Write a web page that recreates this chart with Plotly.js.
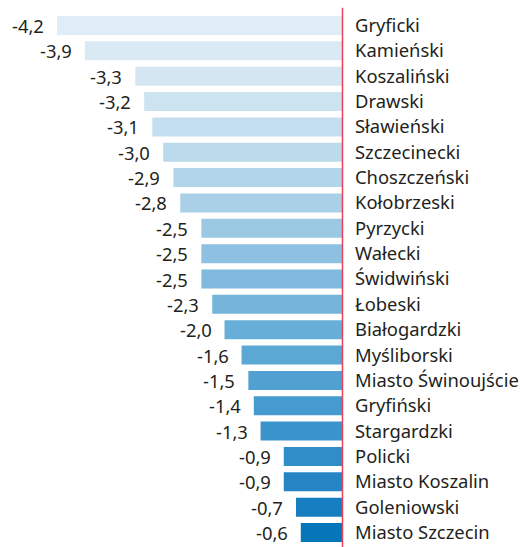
<!DOCTYPE html>
<html>
<head>
<meta charset="utf-8">
<script src="https://cdn.plot.ly/plotly-3.0.1.min.js"></script>
<style>html,body{margin:0;padding:0;background:#fff;}#chart{width:524px;height:547px;}</style>
</head>
<body>
<div id="chart"></div>
<script>
// Categories (top to bottom)
const categories = ["Gryficki","Kamieński","Koszaliński","Drawski","Sławieński","Szczecinecki","Choszczeński","Kołobrzeski","Pyrzycki","Wałecki","Świdwiński","Łobeski","Białogardzki","Myśliborski","Miasto Świnoujście","Gryfiński","Stargardzki","Policki","Miasto Koszalin","Goleniowski","Miasto Szczecin"];
// Printed values
const values = [-4.2,-3.9,-3.3,-3.2,-3.1,-3.0,-2.9,-2.8,-2.5,-2.5,-2.5,-2.3,-2.0,-1.6,-1.5,-1.4,-1.3,-0.9,-0.9,-0.7,-0.6];
// Bar lengths as drawn in the reference (same units)
const barLength = [-4.20,-3.79,-3.05,-2.92,-2.80,-2.64,-2.49,-2.39,-2.08,-2.08,-2.08,-1.92,-1.74,-1.49,-1.39,-1.31,-1.21,-0.87,-0.87,-0.69,-0.62];
// Value labels (Polish decimal comma)
const valueLabels = ["-4,2","-3,9","-3,3","-3,2","-3,1","-3,0","-2,9","-2,8","-2,5","-2,5","-2,5","-2,3","-2,0","-1,6","-1,5","-1,4","-1,3","-0,9","-0,9","-0,7","-0,6"];

// colour ramp stops (style)
const stops = [[0,[224,237,246]],[3,[204,227,240]],[7,[169,208,231]],[10,[128,186,222]],[13,[91,168,213]],[16,[58,148,204]],[18,[37,133,196]],[20,[6,118,187]]];
function colorAt(i){
  for(let k=0;k<stops.length-1;k++){
    const [a,ca]=stops[k],[b,cb]=stops[k+1];
    if(i>=a&&i<=b){const t=(i-a)/(b-a);const c=ca.map((v,j)=>Math.round(v+(cb[j]-v)*t));return `rgb(${c[0]},${c[1]},${c[2]})`;}
  }
  return 'rgb(6,118,187)';
}
const colors = categories.map((_,i)=>colorAt(i));

const FONT = "Noto Sans, Open Sans, sans-serif";
const FS = 18.4;
const trace = {
  type:'bar', orientation:'h',
  x: barLength, y: categories,
  marker:{color:colors, line:{width:0}},
  hoverinfo:'skip'
};
const annotations = categories.map((c,i)=>({
  x: barLength[i], y: c, xref:'x', yref:'y',
  text: valueLabels[i], showarrow:false, xanchor:'right', yanchor:'middle',
  xshift:-11, font:{family:FONT, size:FS, color:'#231f20'}
}));
const layout = {
  width:524, height:547,
  margin:{l:0, r:181, t:11, b:0, pad:0},
  paper_bgcolor:'#fff', plot_bgcolor:'#fff',
  bargap:0.25,
  showlegend:false,
  xaxis:{range:[-5.037,0], showgrid:false, zeroline:false, showticklabels:false, ticks:'', showline:false, fixedrange:true},
  yaxis:{type:'category', autorange:'reversed', side:'right', showgrid:false, zeroline:false, ticks:'', showline:false,
         ticklabelstandoff:11, tickfont:{family:FONT, size:FS, color:'#231f20'}, fixedrange:true},
  shapes:[{type:'line', xref:'paper', yref:'paper', x0:0.9985, x1:0.9985, y0:-0.01, y1:1.006, layer:'above', line:{color:'#e8435a', width:1.5}}],
  annotations: annotations
};
Plotly.newPlot('chart',[trace],layout,{displayModeBar:false, staticPlot:true});
</script>
</body>
</html>
